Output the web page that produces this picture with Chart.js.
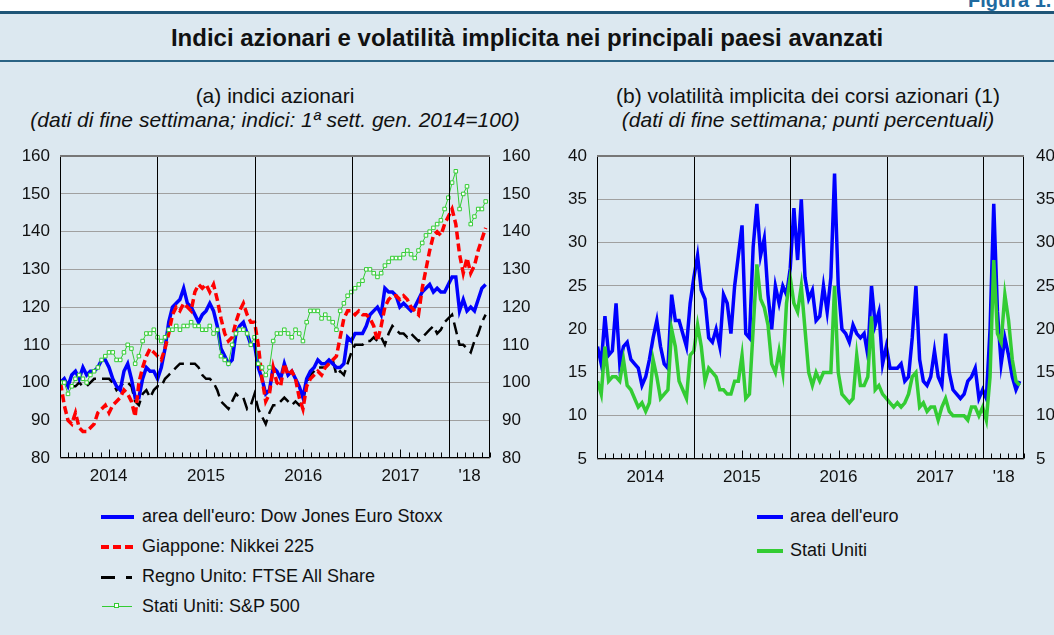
<!DOCTYPE html>
<html>
<head>
<meta charset="utf-8">
<script src="https://cdn.jsdelivr.net/npm/chart.js@4.4.1/dist/chart.umd.min.js"></script>
<style>
body{margin:0;width:1054px;height:635px;background:#dce8f0;font-family:"Liberation Sans",Arial,sans-serif;color:#111;position:relative;overflow:hidden}
#topstrip{position:absolute;left:0;top:0;width:1054px;height:11px;background:#fff}
#fig{position:absolute;left:968px;top:-11px;font-weight:bold;font-size:20px;color:#1f6aa0;white-space:nowrap}
#rule1{position:absolute;left:0;top:11px;width:1054px;height:3px;background:#1f5577}
#title{position:absolute;left:0;top:24px;width:1054px;text-align:center;font-weight:bold;font-size:24px}
#rule2{position:absolute;left:0;top:60px;width:1054px;height:2px;background:#2b6384}
.ptitle{position:absolute;text-align:center;font-size:21px;white-space:nowrap}
.psub{position:absolute;text-align:center;font-size:21px;font-style:italic;white-space:nowrap}
.box{position:absolute;top:134px;height:360px}
.leg{position:absolute;font-size:18px;white-space:nowrap}
.sample{position:absolute}
</style>
</head>
<body>
<div id="topstrip"></div>
<div id="fig">Figura 1.</div>
<div id="rule1"></div>
<div id="title">Indici azionari e volatilità implicita nei principali paesi avanzati</div>
<div id="rule2"></div>

<div class="ptitle" style="left:0;width:550px;top:84px">(a) indici azionari</div>
<div class="psub" style="left:0;width:550px;top:108px">(dati di fine settimana; indici: 1ª sett. gen. 2014=100)</div>
<div class="ptitle" style="left:560px;width:496px;top:84px">(b) volatilità implicita dei corsi azionari (1)</div>
<div class="psub" style="left:560px;width:496px;top:108px">(dati di fine settimana; punti percentuali)</div>

<div class="box" style="left:0;width:545px"><canvas id="left" width="545" height="360"></canvas></div>
<div class="box" style="left:545px;width:509px"><canvas id="right" width="509" height="360"></canvas></div>

<div class="sample" style="left:101px;top:515px;width:33px;height:4px;background:#0000ff"></div>
<div class="leg" style="left:142px;top:506px">area dell'euro: Dow Jones Euro Stoxx</div>
<div class="sample" style="left:101px;top:545px;width:33px;height:4px;background:repeating-linear-gradient(90deg,#ff0000 0 8px,transparent 8px 12px)"></div>
<div class="leg" style="left:142px;top:536px">Giappone: Nikkei 225</div>
<div class="sample" style="left:101px;top:576px;width:31px;height:2.5px;background:linear-gradient(90deg,#000 0 14px,transparent 14px 25px,#000 25px 31px)"></div>
<div class="leg" style="left:142px;top:566px">Regno Unito: FTSE All Share</div>
<div class="sample" style="left:102px;top:606px;width:30px;height:1px;background:#33cc33"></div>
<div class="sample" style="left:114px;top:603px;width:5px;height:5px;border:1px solid #33cc33;background:#fff;box-sizing:border-box"></div>
<div class="leg" style="left:142px;top:596px">Stati Uniti: S&amp;P 500</div>

<div class="sample" style="left:757px;top:515px;width:26px;height:4px;background:#0000ff"></div>
<div class="leg" style="left:790px;top:506px">area dell'euro</div>
<div class="sample" style="left:757px;top:549px;width:26px;height:4px;background:#33cc33"></div>
<div class="leg" style="left:790px;top:540px">Stati Uniti</div>

<script>
// year labels on the x axis
var yearLabels = ['2014', '2015', '2016', '2017', "'18"];

// end-of-week data, one value every two weeks from the first week of 2014
var euroStoxx = [100,101,99,102,103,101,104,102,103,103,104,106,106,104,101,99,98,103,105,101,96,96,101,104,103,103,
	101,104,109,116,120,121,122,125,121,120,118,116,118,119,121,119,115,109,107,105,106,113,115,116,113,110,
	110,104,101,97,98,104,103,101,105,102,103,101,99,96,101,103,104,106,105,105,106,105,104,104,105,112,
	111,113,113,113,115,118,119,120,118,125,124,124,123,120,121,120,119,120,122,124,125,126,124,125,124,124,
	126,128,128,119,122,119,120,119,122,125,126];
var nikkei = [100,94,90,89,92,88,87,87,88,89,92,93,94,92,94,95,96,98,97,95,91,100,104,107,109,108,
	107,106,109,113,118,120,119,121,120,119,124,126,125,126,124,126,122,117,113,111,112,116,119,121,118,116,
	116,110,101,95,97,104,100,99,105,102,103,101,96,93,99,101,102,103,102,104,105,106,107,112,117,119,
	119,118,119,118,118,117,115,111,115,120,122,123,123,122,123,122,120,119,118,125,130,135,139,140,139,142,
	144,146,142,134,129,133,129,131,135,138,141];
var ftse = [100,101,99,99,99,100,99,99,100,101,101,101,101,101,100,98,99,100,100,99,95,94,97,98,96,98,
	99,99,101,102,103,104,105,105,105,105,105,104,102,101,101,100,98,95,94,93,95,97,96,96,93,94,
	97,93,91,89,92,94,94,95,96,95,94,95,94,95,100,102,103,104,104,104,105,106,102,103,102,105,
	108,110,110,110,111,111,112,111,112,110,113,115,114,113,113,112,113,112,111,112,113,114,115,113,114,116,
	117,118,114,110,110,109,108,111,113,116,118];
var sp500 = [100,100,97,99,101,102,101,100,102,103,104,106,107,108,108,106,106,108,110,109,105,107,111,113,113,114,
	112,111,112,114,114,115,114,115,115,116,115,115,114,114,115,113,114,107,106,105,110,113,114,114,113,110,
	112,105,104,102,104,111,113,113,114,113,112,114,113,111,116,119,119,119,117,118,117,116,114,119,121,123,
	124,125,126,127,130,130,129,128,129,131,132,133,133,133,134,135,134,133,135,137,139,140,141,142,143,146,
	149,153,156,146,150,152,142,144,146,146,148];

var vstoxx = [18,16,21.5,17,17.5,23,16,18,18.5,16.5,16,15.5,13.5,14.5,16.5,19,21,18,16,15.5,24,21,21,19.5,18,23,
	26,28.5,24.5,23.5,19,18.5,20,18,24,23,19.5,25,28.5,32,19.5,19,29.5,34.5,28.5,30.5,24,20,25,23,25,24,
	27,34,28,35,26,23.5,24.5,21,21.5,25,22,26,38,25,20,19.5,18.5,20.5,19.5,19,19.5,17,25,20.5,22,16,
	18,15.5,15.5,15.5,16,14,14.5,19,25,16.5,14,13.5,14.5,17.5,14.5,13.5,19.5,15,13,12.5,12,12.5,14,14.5,15.5,12,
	13,12,20,34.5,22,16,19,17,14.5,13,14];
var vix = [14,12.5,18,14,14.5,14.5,14,16.5,13.5,13,12,11,11.5,10.5,11.5,16.5,14.5,12,12.5,13,20,18,14,13,12,17,
	17.5,20.5,18,14,15.5,15,14.5,13,13,12.5,12.5,14,14,17,12,12.5,20,27.5,23.5,22.5,20.5,16,15,17.5,15,23,
	26,23,22,25,20,15,13.5,15,14,15,15,15,25,15,12.5,12,11.5,12,17,13.5,13.5,14.5,21.5,13,13.5,12.5,
	12,11.5,11,11.5,11,11.5,12.5,14.5,15,11,11.5,10.5,11,11,9.5,11,12,10.5,10,10,10,10,9.5,11,11,10,
	11,9.5,14.5,28,19.5,18.5,24,21,16.5,14,13.5];

var xMin = 2014, xMax = 2018.42;

// dates of the observations as fractional years
var dates = [];
for (var i = 0; i < euroStoxx.length; i++) {
	var d = new Date(2014, 0, 3 + 14 * i);
	var y0 = new Date(d.getFullYear(), 0, 1);
	var y1 = new Date(d.getFullYear() + 1, 0, 1);
	dates.push(d.getFullYear() + (d - y0) / (y1 - y0));
}

function toPoints(values) {
	return values.map(function(v, i) { return {x: dates[i], y: v}; });
}

var yearTicks = [2014.5, 2015.5, 2016.5, 2017.5, (2018 + xMax) / 2];

// frame, year separators and monthly tick marks
var framePlugin = {
	id: 'frame',
	afterDraw: function(chart) {
		var ctx = chart.ctx;
		var a = chart.chartArea;
		var xs = chart.scales.x;
		var L = Math.round(a.left) + 0.5, R = Math.round(a.right) - 0.5;
		var T = Math.round(a.top) + 0.5, B = Math.round(a.bottom) - 0.5;
		ctx.save();
		ctx.strokeStyle = '#000';
		ctx.lineWidth = 1;
		for (var yr = 2015; yr <= 2018; yr++) {
			var px = Math.round(xs.getPixelForValue(yr)) + 0.5;
			ctx.beginPath(); ctx.moveTo(px, T); ctx.lineTo(px, B); ctx.stroke();
		}
		for (var m = 1; m < 12 * 5; m++) {
			var v = 2014 + m / 12;
			if (v >= xMax || m % 12 == 0) continue;
			var tx = Math.round(xs.getPixelForValue(v)) + 0.5;
			var len = (m % 12 == 6) ? 8 : 5;
			ctx.beginPath(); ctx.moveTo(tx, B); ctx.lineTo(tx, B - len); ctx.stroke();
		}
		ctx.beginPath();
		ctx.moveTo(L, T); ctx.lineTo(L, B); ctx.lineTo(R, B); ctx.lineTo(R, T);
		ctx.stroke();
		ctx.strokeStyle = '#777';
		ctx.lineWidth = 2;
		ctx.beginPath(); ctx.moveTo(a.left, Math.round(a.top)); ctx.lineTo(a.right, Math.round(a.top)); ctx.stroke();
		ctx.restore();
	}
};

function makeOptions(yMin, yMax, yStep, leftW, rightW, xH) {
	return {
		responsive: false,
		animation: false,
		layout: {padding: {top: 9, left: 0, right: 0, bottom: 0}},
		plugins: {legend: {display: false}, tooltip: {enabled: false}},
		scales: {
			x: {
				type: 'linear', min: xMin, max: xMax,
				grid: {display: false, drawTicks: false},
				border: {display: false},
				afterBuildTicks: function(s) { s.ticks = yearTicks.map(function(v) { return {value: v}; }); },
				ticks: {
					padding: 8, color: '#111', font: {size: 17}, autoSkip: false, maxRotation: 0,
					callback: function(v, i) { return yearLabels[i]; }
				},
				afterFit: function(s) { s.height = xH; }
			},
			y: {
				position: 'left', min: yMin, max: yMax,
				grid: {color: '#a0a0a0', drawTicks: false},
				border: {display: false},
				ticks: {stepSize: yStep, padding: 10, color: '#111', font: {size: 17}},
				afterFit: function(s) { s.width = leftW; }
			},
			y2: {
				position: 'right', min: yMin, max: yMax,
				grid: {display: false, drawTicks: false},
				border: {display: false},
				ticks: {stepSize: yStep, padding: 12, color: '#111', font: {size: 17}},
				afterFit: function(s) { s.width = rightW; }
			}
		}
	};
}

Chart.defaults.font.family = '"Liberation Sans", Arial, sans-serif';

new Chart(document.getElementById('left'), {
	type: 'line',
	data: {
		datasets: [
			{label: 'Regno Unito: FTSE All Share', data: toPoints(ftse), borderColor: '#000', borderWidth: 2.5,
				borderDash: [12, 6], pointRadius: 0, order: 4},
			{label: "area dell'euro: Dow Jones Euro Stoxx", data: toPoints(euroStoxx), borderColor: '#0000ff',
				borderWidth: 3.5, pointRadius: 0, order: 3},
			{label: 'Giappone: Nikkei 225', data: toPoints(nikkei), borderColor: '#ff0000', borderWidth: 3.5,
				borderDash: [8, 4], pointRadius: 0, order: 2},
			{label: 'Stati Uniti: S&P 500', data: toPoints(sp500), borderColor: '#33cc33', borderWidth: 1,
				pointStyle: 'rect', pointRadius: 2.5, pointBackgroundColor: '#fff', pointBorderColor: '#33cc33',
				pointBorderWidth: 1, order: 1}
		]
	},
	options: makeOptions(80, 160, 10, 60, 55, 36),
	plugins: [framePlugin]
});

new Chart(document.getElementById('right'), {
	type: 'line',
	data: {
		datasets: [
			{label: "area dell'euro", data: toPoints(vstoxx), borderColor: '#0000ff', borderWidth: 3.5,
				pointRadius: 0, order: 2},
			{label: 'Stati Uniti', data: toPoints(vix), borderColor: '#33cc33', borderWidth: 3.5,
				pointRadius: 0, order: 1}
		]
	},
	options: makeOptions(5, 40, 5, 52, 30, 35),
	plugins: [framePlugin]
});
</script>
</body>
</html>
